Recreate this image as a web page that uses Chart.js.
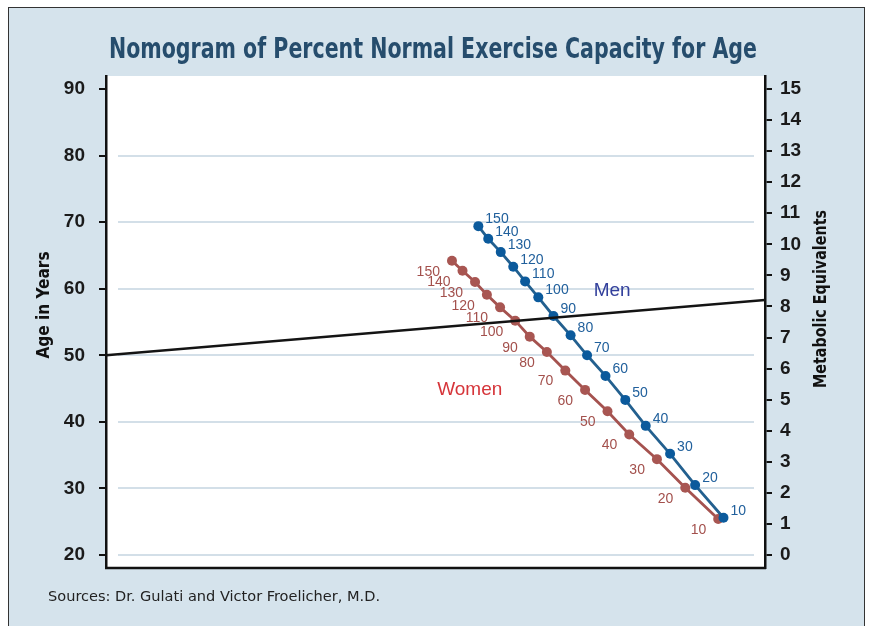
<!DOCTYPE html>
<html>
<head>
<meta charset="utf-8">
<script src="https://cdn.jsdelivr.net/npm/chart.js@4.4.0/dist/chart.umd.min.js"></script>
<style>
  html, body { margin: 0; padding: 0; background: #fff; overflow: hidden; }
  #frame { position: absolute; left: 8px; top: 7px; width: 857px; height: 660px;
           background: #d5e3ec; border: 1.5px solid #333; box-sizing: border-box; }
  #myChart { position: absolute; left: 0; top: 0; }
</style>
</head>
<body>
<div id="frame"></div>
<canvas id="myChart" width="869" height="626"></canvas>
<script>
// percent of normal exercise capacity, one label per point
const capacityLabels = [150, 140, 130, 120, 110, 100, 90, 80, 70, 60, 50, 40, 30, 20, 10];
// horizontal position along the nomogram (hidden scale 0-100) and age in years
const menPos   = [56.5, 58.0, 59.9, 61.8, 63.6, 65.6, 67.9, 70.5, 73.0, 75.8, 78.8, 81.9, 85.6, 89.4, 93.7];
const menAge   = [69.4, 67.5, 65.5, 63.3, 61.1, 58.7, 55.9, 53.0, 50.0, 46.9, 43.3, 39.4, 35.2, 30.5, 25.6];
const womenPos = [52.5, 54.1, 56.0, 57.8, 59.8, 62.1, 64.3, 66.9, 69.7, 72.7, 76.1, 79.4, 83.6, 87.9, 92.9];
const womenAge = [64.2, 62.7, 61.0, 59.1, 57.2, 55.2, 52.8, 50.5, 47.7, 44.8, 41.6, 38.1, 34.4, 30.1, 25.4];
// example reading line: age 50 on the left to METs on the right
const readPos = [0, 100];
const readAge = [50, 58.3];

const ageTicks = [20, 30, 40, 50, 60, 70, 80, 90];
const metTicks = [0, 1, 2, 3, 4, 5, 6, 7, 8, 9, 10, 11, 12, 13, 14, 15];
const gridAges = [20, 30, 40, 50, 60, 70, 80];

const menText = { x: 76.8, y: 59.7 };
const womenText = { x: 55.2, y: 44.8 };

const AGE_MIN = 18.05, AGE_MAX = 91.95;
const toMet = a => (a - 20) * 15 / 70;

const pts = (xs, ys) => xs.map((x, i) => ({ x: x, y: ys[i] }));

function fitText(ctx, text, x, y, width, align) {
    const w = ctx.measureText(text).width;
    ctx.save();
    ctx.translate(x, y);
    ctx.scale(width / w, 1);
    ctx.textAlign = align;
    ctx.fillText(text, 0, 0);
    ctx.restore();
}

const decor = {
    id: 'decor',
    beforeDraw(chart) {
        const { ctx, chartArea: a, scales } = chart;
        ctx.save();
        ctx.fillStyle = '#ffffff';
        ctx.fillRect(a.left, a.top, a.right - a.left, a.bottom - a.top);
        ctx.strokeStyle = '#d3dfe8';
        ctx.lineWidth = 2;
        gridAges.forEach(v => {
            const y = Math.round(scales.y.getPixelForValue(v));
            ctx.beginPath();
            ctx.moveTo(a.left + 12, y);
            ctx.lineTo(a.right - 11, y);
            ctx.stroke();
        });
        ctx.restore();
    },
    afterDatasetsDraw(chart) {
        const { ctx, scales } = chart;
        ctx.save();
        ctx.font = '14px "Liberation Sans", Arial, sans-serif';
        ctx.textBaseline = 'middle';
        const men = chart.getDatasetMeta(1).data;
        ctx.fillStyle = '#21609c';
        ctx.textAlign = 'left';
        men.forEach((p, i) => ctx.fillText(String(capacityLabels[i]), p.x + 7, p.y - 7));
        const women = chart.getDatasetMeta(2).data;
        ctx.fillStyle = '#a3504c';
        ctx.textAlign = 'right';
        women.forEach((p, i) => ctx.fillText(String(capacityLabels[i]), p.x - 12, p.y + 11));

        ctx.font = '19px "Liberation Sans", Arial, sans-serif';
        ctx.textAlign = 'center';
        ctx.fillStyle = '#33409c';
        ctx.fillText('Men', scales.x.getPixelForValue(menText.x), scales.y.getPixelForValue(menText.y));
        ctx.fillStyle = '#d6353a';
        ctx.fillText('Women', scales.x.getPixelForValue(womenText.x), scales.y.getPixelForValue(womenText.y));
        ctx.restore();
    },
    afterDraw(chart) {
        const { ctx, chartArea: a } = chart;
        ctx.save();
        // bottom frame of plot
        ctx.strokeStyle = '#111';
        ctx.lineWidth = 2.5;
        ctx.beginPath();
        ctx.moveTo(a.left - 1, a.bottom);
        ctx.lineTo(a.right + 1, a.bottom);
        ctx.stroke();

        ctx.textBaseline = 'alphabetic';
        ctx.fillStyle = '#264d6d';
        ctx.font = 'bold 29px "Liberation Sans Narrow", "DejaVu Sans Condensed", sans-serif';
        fitText(ctx, 'Nomogram of Percent Normal Exercise Capacity for Age', 433, 58, 648, 'center');

        ctx.fillStyle = '#222';
        ctx.font = '14px "Liberation Sans Narrow", "DejaVu Sans Condensed", sans-serif';
        fitText(ctx, 'Sources: Dr. Gulati and Victor Froelicher, M.D.', 48, 601, 332, 'left');

        ctx.fillStyle = '#111';
        ctx.font = 'bold 17px "Liberation Sans Narrow", "DejaVu Sans Condensed", sans-serif';
        ctx.textBaseline = 'middle';
        ctx.save();
        ctx.translate(45, 305);
        ctx.rotate(-Math.PI / 2);
        fitText(ctx, 'Age in Years', 0, 0, 107, 'center');
        ctx.restore();
        ctx.save();
        ctx.translate(822, 299);
        ctx.rotate(-Math.PI / 2);
        fitText(ctx, 'Metabolic Equivalents', 0, 0, 178, 'center');
        ctx.restore();
        ctx.restore();
    }
};

new Chart(document.getElementById('myChart'), {
    type: 'line',
    data: {
        datasets: [{
            label: 'Reading line',
            data: pts(readPos, readAge),
            borderColor: '#141414',
            borderWidth: 2.5,
            pointRadius: 0
        }, {
            label: 'Men',
            data: pts(menPos, menAge),
            borderColor: '#23608f',
            borderWidth: 2.8,
            pointRadius: 5,
            pointBorderWidth: 0,
            pointBackgroundColor: '#0b5a9c'
        }, {
            label: 'Women',
            data: pts(womenPos, womenAge),
            borderColor: '#a5524f',
            borderWidth: 2.8,
            pointRadius: 5,
            pointBorderWidth: 0,
            pointBackgroundColor: '#a85652'
        }]
    },
    options: {
        responsive: false,
        animation: false,
        devicePixelRatio: 1,
        layout: { padding: { top: 76, bottom: 58, left: 0, right: 0 } },
        plugins: { legend: { display: false }, tooltip: { enabled: false } },
        scales: {
            x: { type: 'linear', min: 0, max: 100, display: false },
            y: {
                position: 'left',
                min: AGE_MIN,
                max: AGE_MAX,
                afterBuildTicks: s => { s.ticks = ageTicks.map(v => ({ value: v })); },
                afterFit: s => { s.width = 106; },
                grid: { drawOnChartArea: false, drawTicks: true, tickLength: 7, color: '#111', lineWidth: 2 },
                border: { display: true, color: '#111', width: 2.5 },
                ticks: {
                    padding: 14,
                    color: '#1a1a1a',
                    font: { family: '"Liberation Sans", Arial, sans-serif', size: 19, weight: 'bold' }
                }
            },
            met: {
                position: 'right',
                min: toMet(AGE_MIN),
                max: toMet(AGE_MAX),
                afterBuildTicks: s => { s.ticks = metTicks.map(v => ({ value: v })); },
                afterFit: s => { s.width = 104; },
                grid: { drawOnChartArea: false, drawTicks: true, tickLength: 7, color: '#111', lineWidth: 2 },
                border: { display: true, color: '#111', width: 2.5 },
                ticks: {
                    padding: 8,
                    color: '#1a1a1a',
                    font: { family: '"Liberation Sans", Arial, sans-serif', size: 19, weight: 'bold' }
                }
            }
        }
    },
    plugins: [decor]
});
</script>
</body>
</html>
